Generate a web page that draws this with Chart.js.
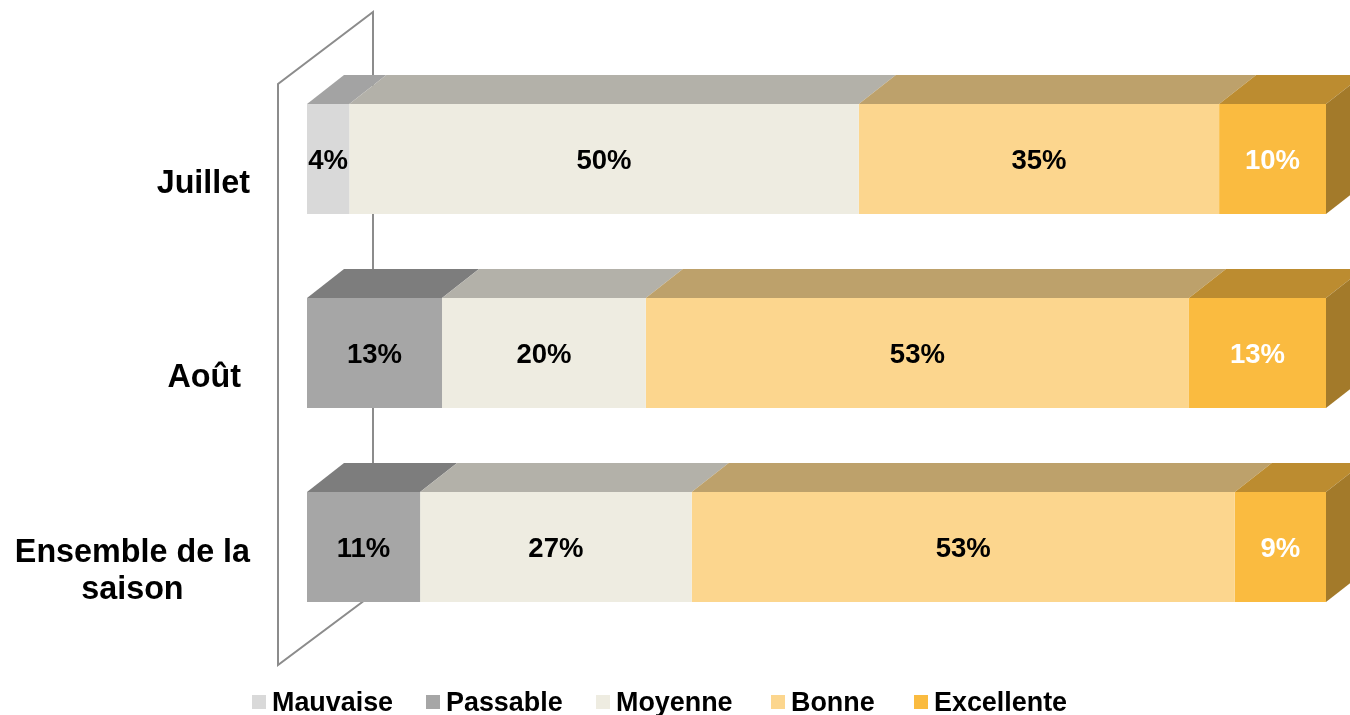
<!DOCTYPE html>
<html lang="fr">
<head>
<meta charset="utf-8">
<title>Appréciation de la saison</title>
<script src="https://cdn.jsdelivr.net/npm/chart.js@4"></script>
<style>
    html, body { margin: 0; padding: 0; background: #fff; overflow: hidden; }
    canvas { display: block; }
</style>
</head>
<body>
<canvas id="graphique" width="1350" height="715"></canvas>
<script>
// ================= DONNEES =================
const categories = ["Juillet", "Août ", ["Ensemble de la", "saison"]];
const mauvaise = [4.15, 0, 0];
const passable = [0, 13.25, 11.1];
const moyenne = [50, 20, 26.65];
const bonne = [35.36, 53.3, 53.3];
const excellente = [10.49, 13.45, 8.95];

const couleurs = ["#D9D9D9", "#A6A6A6", "#EEECE1", "#FCD68E", "#FABB40"];
const couleursTexte = ["#000", "#000", "#000", "#000", "#fff"];
const legendeX = [252, 426, 596, 771, 914];

// effet 3D
const PROF_X = 37, PROF_Y = 29;
const FONT = '"Liberation Sans", Arial, sans-serif';

function assombrir(hex, f) {
    const n = parseInt(hex.slice(1), 16);
    const c = [n >> 16, (n >> 8) & 255, n & 255].map(v => Math.round(v * f));
    return `rgb(${c[0]},${c[1]},${c[2]})`;
}

function face(ctx, pts, couleur) {
    ctx.fillStyle = couleur;
    ctx.beginPath();
    pts.forEach((p, i) => i ? ctx.lineTo(p[0], p[1]) : ctx.moveTo(p[0], p[1]));
    ctx.closePath();
    ctx.fill();
}

// paroi du fond, derriere les barres
const paroi = {
    id: "paroi",
    beforeDatasetsDraw(chart) {
        const { ctx, chartArea: a } = chart;
        ctx.save();
        ctx.strokeStyle = "#8C8C8C";
        ctx.lineWidth = 2;
        ctx.lineJoin = "miter";
        ctx.beginPath();
        ctx.moveTo(a.left + 66, a.bottom - 50);
        ctx.lineTo(a.left + 66, a.top - 50);
        ctx.lineTo(a.left - 29, a.top + 22);
        ctx.lineTo(a.left - 29, a.bottom + 21);
        ctx.closePath();
        ctx.stroke();
        ctx.restore();
    }
};

// faces du dessus et de droite, etiquettes, categories et legende
const habillage = {
    id: "habillage",
    afterDatasetsDraw(chart) {
        const { ctx, scales } = chart;
        ctx.save();

        chart.data.datasets.forEach((ds, d) => {
            chart.getDatasetMeta(d).data.forEach((bar, i) => {
                if (!ds.data[i]) return;
                const haut = bar.y - bar.height / 2;
                const bas = bar.y + bar.height / 2;
                face(ctx, [
                    [bar.base, haut], [bar.x, haut],
                    [bar.x + PROF_X, haut - PROF_Y], [bar.base + PROF_X, haut - PROF_Y]
                ], assombrir(couleurs[d], 0.75));
                if (d === chart.data.datasets.length - 1) {
                    face(ctx, [
                        [bar.x, haut], [bar.x + PROF_X, haut - PROF_Y],
                        [bar.x + PROF_X, bas - PROF_Y], [bar.x, bas]
                    ], assombrir(couleurs[d], 0.65));
                }
                ctx.font = "bold 27.5px " + FONT;
                ctx.textAlign = "center";
                ctx.textBaseline = "middle";
                ctx.fillStyle = couleursTexte[d];
                ctx.fillText(Math.round(ds.data[i]) + "%", (bar.base + bar.x) / 2, bar.y + 2);
            });
        });

        // categories : bloc cale a droite, lignes centrees entre elles
        ctx.font = "bold 32.3px " + FONT;
        ctx.textAlign = "center";
        ctx.textBaseline = "middle";
        ctx.fillStyle = "#000";
        categories.forEach((cat, i) => {
            const lignes = [].concat(cat);
            const larg = Math.max(...lignes.map(l => ctx.measureText(l).width));
            const y0 = scales.y.getPixelForTick(i) + 25 - (lignes.length - 1) * 18.5;
            lignes.forEach((l, k) => ctx.fillText(l, 250 - larg / 2, y0 + k * 37));
        });

        // legende
        ctx.font = "bold 26.9px " + FONT;
        ctx.textAlign = "left";
        ctx.textBaseline = "alphabetic";
        chart.data.datasets.forEach((ds, d) => {
            ctx.fillStyle = couleurs[d];
            ctx.fillRect(legendeX[d], 695, 14, 14);
            ctx.fillStyle = "#000";
            ctx.fillText(ds.label, legendeX[d] + 20, 711);
        });

        ctx.restore();
    }
};

// ================= GRAPHIQUE =================
const series = [
    ["Mauvaise", mauvaise],
    ["Passable", passable],
    ["Moyenne", moyenne],
    ["Bonne", bonne],
    ["Excellente", excellente]
];

new Chart(document.getElementById("graphique"), {
    type: "bar",
    data: {
        labels: categories,
        datasets: series.map(([label, data], i) => ({
            label,
            data,
            backgroundColor: couleurs[i],
            borderWidth: 0,
            categoryPercentage: 1,
            barPercentage: 110 / 194
        }))
    },
    options: {
        indexAxis: "y",
        responsive: false,
        animation: false,
        layout: { padding: { top: 62, bottom: 71, left: 307, right: 24 } },
        plugins: { legend: { display: false }, tooltip: { enabled: false } },
        scales: {
            x: { stacked: true, min: 0, max: 100, display: false },
            y: { stacked: true, display: false }
        }
    },
    plugins: [paroi, habillage]
});
</script>
</body>
</html>
